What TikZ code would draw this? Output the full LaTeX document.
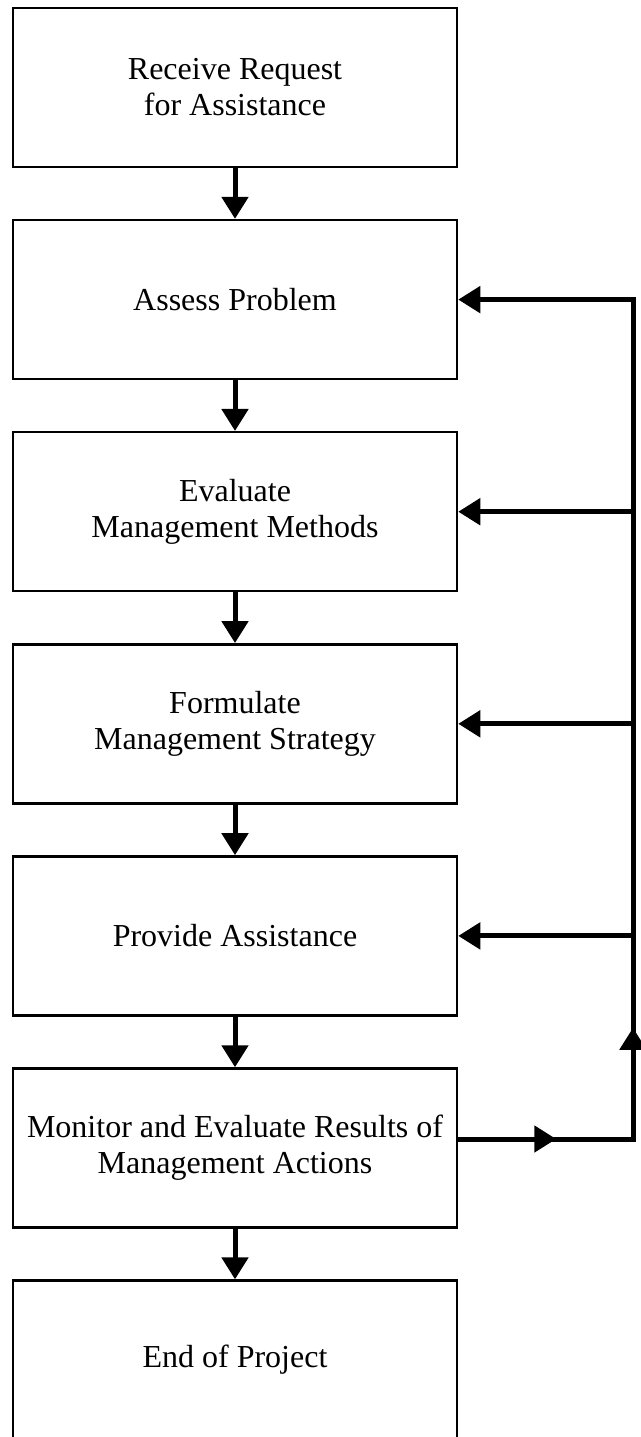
\documentclass[tikz,border=0pt]{standalone}
\usepackage{fontspec}
\setmainfont{Liberation Serif}
\usetikzlibrary{arrows.meta, positioning, decorations.markings}

\tikzset{
  stage/.style={draw, line width=1.25pt, minimum width=222pt, minimum height=79.5pt,
    align=center, font=\fontsize{16}{18}\selectfont},
  link/.style={line width=2.5pt},
  headed/.style={-{Triangle[length=11pt,width=13pt]}},
  midhead/.style={postaction={decorate, decoration={markings,
    mark=at position #1 with {\arrow{Triangle[length=11pt,width=13pt]}}}}}
}

\begin{document}
\begin{tikzpicture}[x=0.5pt, y=-0.5pt, node distance=25.3pt]
      \useasboundingbox (0,0) rectangle (641,1437);
      \node[stage] (receive) at (235,87.5) {Receive Request\\for Assistance};
      \node[stage, below=of receive] (assess) {Assess Problem};
      \node[stage, below=of assess] (evaluate) {Evaluate\\Management Methods};
      \node[stage, below=of evaluate] (formulate) {Formulate\\Management Strategy};
      \node[stage, below=of formulate] (provide) {Provide Assistance};
      \node[stage, below=of provide] (monitor) {Monitor and Evaluate Results of\\Management Actions};
      \node[stage, below=of monitor] (finish) {End of Project};
      \coordinate (rail) at (633,0);
      \coordinate (out) at ([yshift=4.5pt]monitor.east);
      \draw[link, headed] (receive) -- (assess);
      \draw[link, headed] (assess) -- (evaluate);
      \draw[link, headed] (evaluate) -- (formulate);
      \draw[link, headed] (formulate) -- (provide);
      \draw[link, headed] (provide) -- (monitor);
      \draw[link, headed] (monitor) -- (finish);
      \draw[link, midhead=49pt, midhead=143pt] (out) -- (out -| rail) -- (provide.east -| rail);
      \draw[link, headed] (provide.east -| rail) -- (assess.east -| rail) -- (assess.east);
      \draw[link, headed] (evaluate.east -| rail) -- (evaluate.east);
      \draw[link, headed] (formulate.east -| rail) -- (formulate.east);
      \draw[link, headed] (provide.east -| rail) -- (provide.east);
\end{tikzpicture}
\end{document}
